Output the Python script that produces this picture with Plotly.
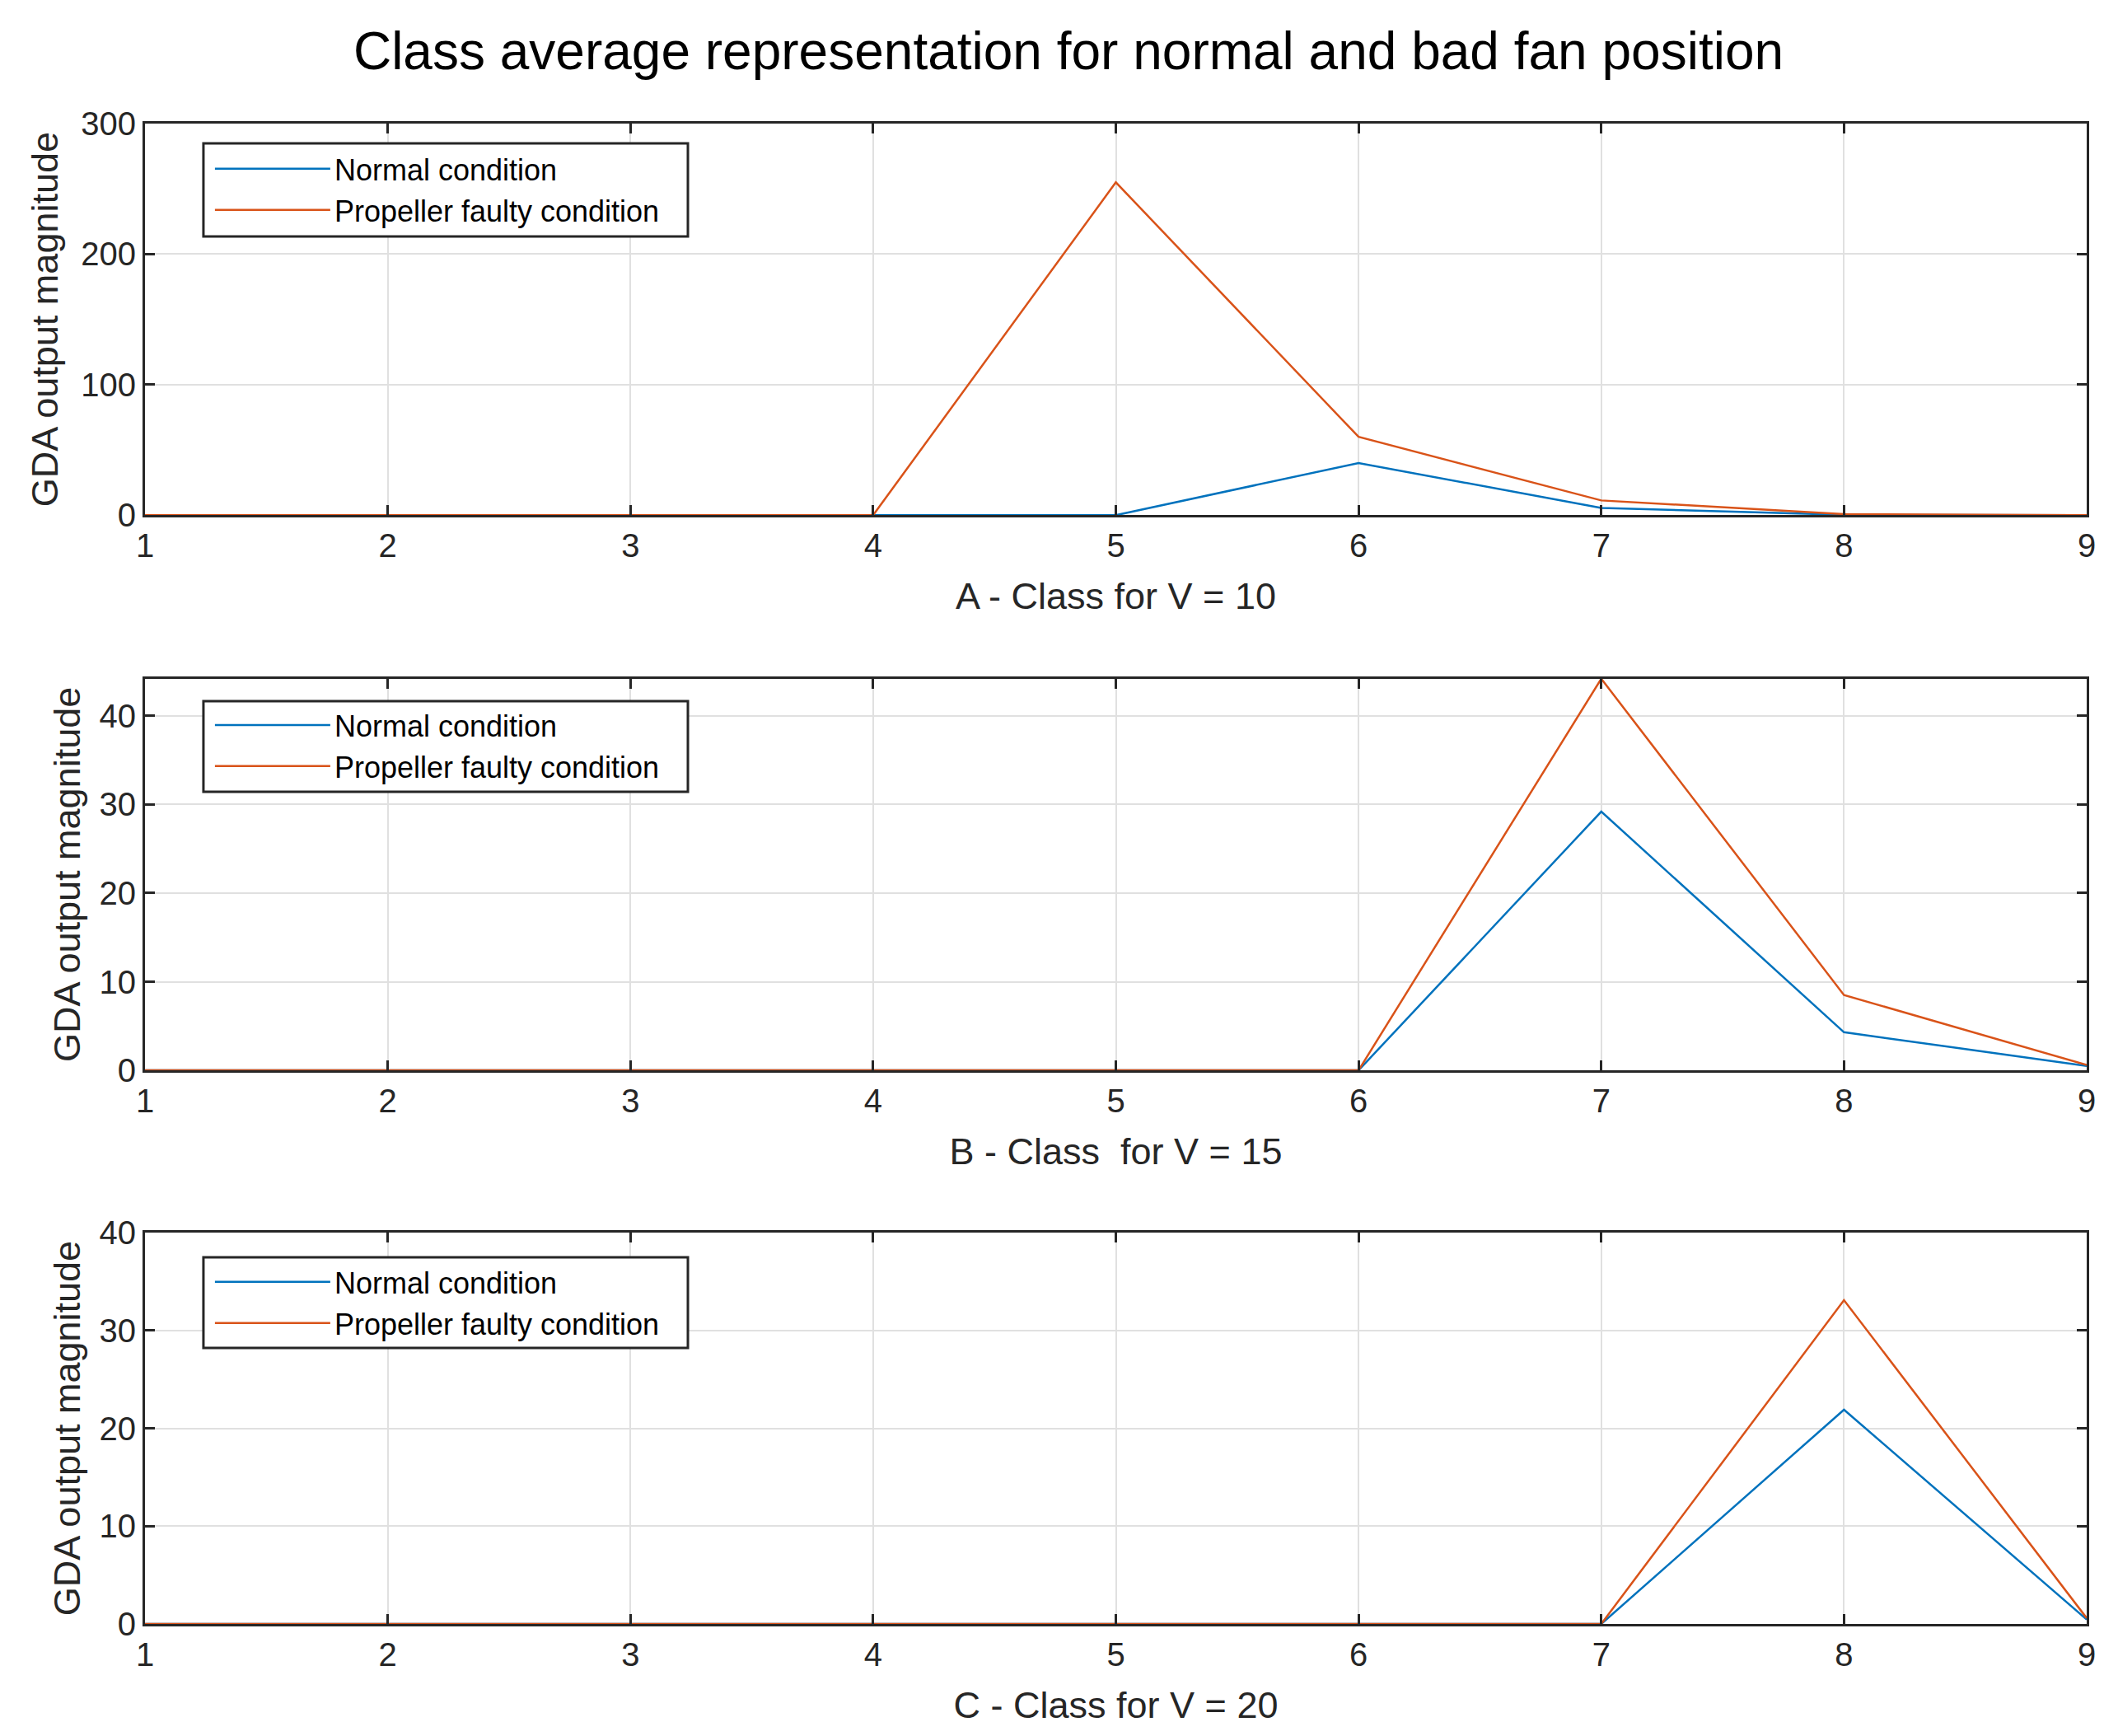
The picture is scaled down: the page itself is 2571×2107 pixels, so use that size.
import plotly.graph_objects as go

classes = [1, 2, 3, 4, 5, 6, 7, 8, 9]

normal_v10 = [0, 0, 0, 0, 0, 40, 5.5, 0.3, 0]
faulty_v10 = [0, 0, 0, 0, 255, 60, 11.3, 0.8, 0]

normal_v15 = [0, 0, 0, 0, 0, 0, 29.2, 4.3, 0.5]
faulty_v15 = [0, 0, 0, 0, 0, 0, 44.2, 8.5, 0.6]

normal_v20 = [0, 0, 0, 0, 0, 0, 0, 21.9, 0.45]
faulty_v20 = [0, 0, 0, 0, 0, 0, 0, 33.1, 0.6]

x_titles = ["A - Class for V = 10", "B - Class  for V = 15", "C - Class for V = 20"]
y_title = "GDA output magnitude"
series_names = ["Normal condition", "Propeller faulty condition"]
main_title = "Class average representation for normal and bad fan position"

y_ranges = [[0, 300], [0, 44.2], [0, 40]]
y_ticks = [[0, 100, 200, 300], [0, 10, 20, 30, 40], [0, 10, 20, 30, 40]]

BLUE = "#0072BD"
ORANGE = "#D95319"
AXC = "#262626"
FONT = "Liberation Sans, Arial, Helvetica, sans-serif"

# page body has an 8px margin; size the figure so it fits the window exactly
W, H = 2555, 2091
ML, MR, MT, MB = 168, 30, 142, 128

domains = [[0.739, 1.0], [0.369, 0.630], [0.0, 0.2608]]
legend_tops = [0.9863, 0.6156, 0.2444]
legend_boxes = [(0.98682, 0.92477), (0.61505, 0.55464), (0.24437, 0.18396)]
ytitle_standoff = [14, 9, 9]

fig = go.Figure()
data = [(normal_v10, faulty_v10), (normal_v15, faulty_v15), (normal_v20, faulty_v20)]
legend_keys = ["legend", "legend2", "legend3"]

for i, (nrm, flt) in enumerate(data):
    xa = "x" if i == 0 else f"x{i+1}"
    ya = "y" if i == 0 else f"y{i+1}"
    fig.add_trace(go.Scatter(x=classes, y=nrm, mode="lines", name=series_names[0],
                             line=dict(color=BLUE, width=2.5), xaxis=xa, yaxis=ya,
                             legend=legend_keys[i], cliponaxis=True))
    fig.add_trace(go.Scatter(x=classes, y=flt, mode="lines", name=series_names[1],
                             line=dict(color=ORANGE, width=2.5), xaxis=xa, yaxis=ya,
                             legend=legend_keys[i], cliponaxis=True))

layout = dict(
    width=W, height=H,
    margin=dict(l=ML, r=MR, t=MT, b=MB, autoexpand=False),
    paper_bgcolor="white", plot_bgcolor="white",
    font=dict(family=FONT, color=AXC, size=40),
    title=dict(text=main_title, x=0.5045, xref="container", xanchor="center",
               y=1 - 54 / H, yref="container", yanchor="middle",
               font=dict(family=FONT, size=64, color="black")),
    showlegend=True,
)

shapes = []
for i in range(3):
    xk = "xaxis" if i == 0 else f"xaxis{i+1}"
    yk = "yaxis" if i == 0 else f"yaxis{i+1}"
    ya_ref = "y" if i == 0 else f"y{i+1}"
    xa_ref = "x" if i == 0 else f"x{i+1}"
    layout[xk] = dict(
        domain=[0, 1], anchor=ya_ref, range=[1, 9], tickvals=classes,
        showline=True, linecolor=AXC, linewidth=3, mirror="ticks",
        ticks="inside", ticklen=12, tickwidth=3, tickcolor=AXC,
        showgrid=True, gridcolor="#e0e0e0", gridwidth=2, zeroline=False,
        tickfont=dict(size=40, color=AXC, family=FONT), automargin=False,
        title=dict(text=x_titles[i], font=dict(size=45, color=AXC, family=FONT), standoff=25),
        fixedrange=True,
    )
    layout[yk] = dict(
        domain=domains[i], anchor=xa_ref, range=y_ranges[i], tickvals=y_ticks[i],
        showline=True, linecolor=AXC, linewidth=3, mirror="ticks",
        ticks="inside", ticklen=12, tickwidth=3, tickcolor=AXC,
        showgrid=True, gridcolor="#e0e0e0", gridwidth=2, zeroline=False,
        tickfont=dict(size=40, color=AXC, family=FONT), automargin=False,
        title=dict(text=y_title, font=dict(size=45, color=AXC, family=FONT),
                   standoff=ytitle_standoff[i]),
        fixedrange=True,
    )
    layout[legend_keys[i]] = dict(
        x=0.0339, y=legend_tops[i], xanchor="left", yanchor="top",
        xref="paper", yref="paper",
        bgcolor="rgba(0,0,0,0)", borderwidth=0,
        font=dict(size=36, color="black", family=FONT),
        itemwidth=140, tracegroupgap=0,
    )
    top, bot = legend_boxes[i]
    shapes.append(dict(type="rect", xref="paper", yref="paper",
                       x0=0.0301, x1=0.2796, y0=bot, y1=top,
                       fillcolor="white", line=dict(color=AXC, width=3), layer="above"))

layout["shapes"] = shapes
fig.update_layout(**layout)
fig.write_html("out.html")
